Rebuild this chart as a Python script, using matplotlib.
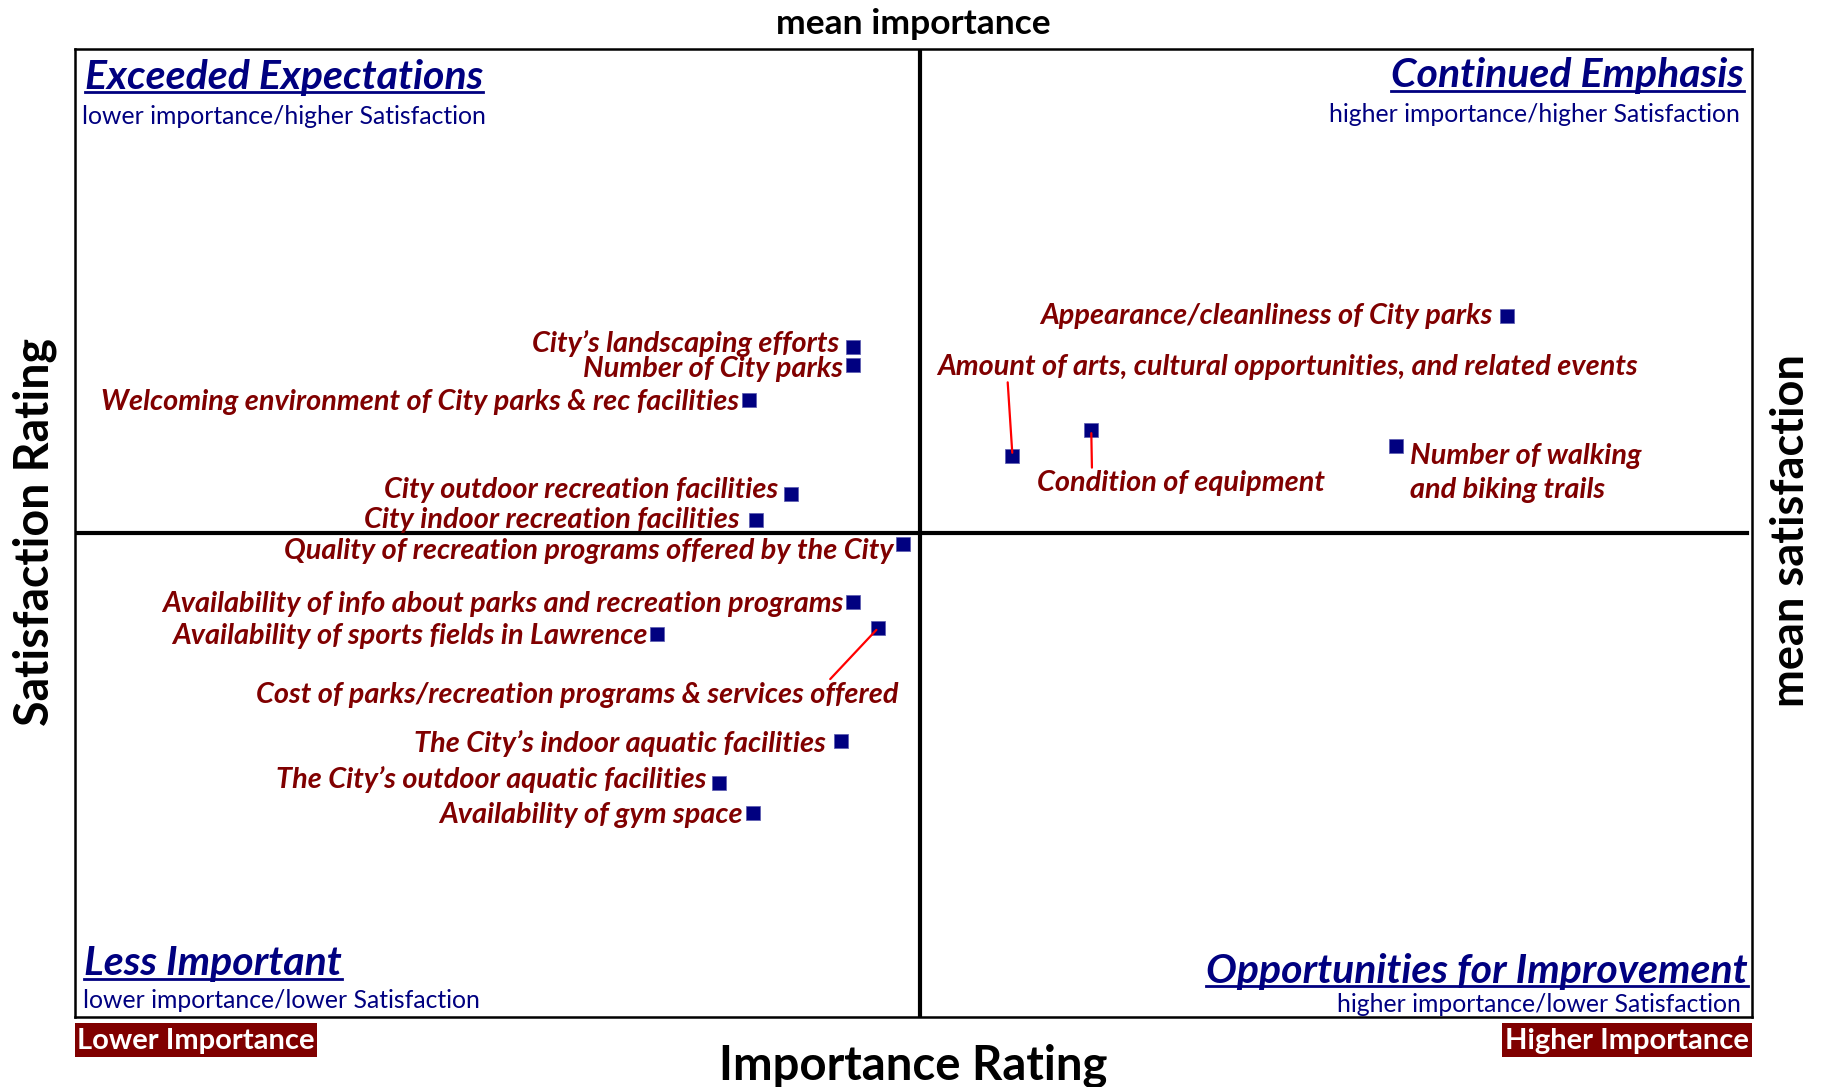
import matplotlib.pyplot as plt
from matplotlib.lines import Line2D
from matplotlib.patches import Rectangle

W, H = 1830, 1087
FONT = 'Lato'
NAVY = '#000080'
MAROON = '#800000'

# mean lines (index units, 0-100 across the plot box)
mean_importance = 50.4
mean_satisfaction = 50.0

items = [
    "City\u2019s landscaping efforts",
    "Number of City parks",
    "Welcoming environment of City parks & rec facilities",
    "City outdoor recreation facilities",
    "City indoor recreation facilities",
    "Quality of recreation programs offered by the City",
    "Availability of info about parks and recreation programs",
    "Availability of sports fields in Lawrence",
    "Cost of parks/recreation programs & services offered",
    "The City\u2019s indoor aquatic facilities",
    "The City\u2019s outdoor aquatic facilities",
    "Availability of gym space",
    "Appearance/cleanliness of City parks",
    "Amount of arts, cultural opportunities, and related events",
    "Condition of equipment",
    "Number of walking\nand biking trails",
]
importance = [46.4, 46.4, 40.2, 42.7, 40.6, 49.4, 46.4, 34.7, 47.9, 45.7,
              38.4, 40.4, 85.4, 55.9, 60.6, 78.8]
satisfaction = [69.2, 67.4, 63.7, 54.0, 51.3, 48.9, 42.9, 39.6, 40.2, 28.5,
                24.2, 21.1, 72.4, 58.0, 60.6, 59.0]

# label placement: offset in pixels, alignment, leader-line anchor (or None)
label_offsets = [(-14, 4), (-10, -4), (-10, -2), (-13, 4), (-16, 0), (-10, -7),
                 (-10, -2), (-9, -2), (20, -67), (-16, -2), (-12, 3), (-10, -2),
                 (-15, 0), (-75, 89), (-54, -53), (14, -27)]
label_ha = ['right'] * 13 + ['left', 'left', 'left']
leader_relpos = [None] * 8 + [(0.89, 1.0)] + [None] * 4 + [(0.10, 0.0), (0.19, 1.0), None]

quadrants = [
    ("Exceeded Expectations", "lower importance/higher Satisfaction", 'left', 85, 77, 82, 116),
    ("Continued Emphasis", "higher importance/higher Satisfaction", 'right', 1744, 76, 1740, 114),
    ("Less Important", "lower importance/lower Satisfaction", 'left', 84, 964, 83, 1001),
    ("Opportunities for Improvement", "higher importance/lower Satisfaction", 'right', 1748, 971, 1741, 1005),
]


def fx(px):
    return px / W


def fy(py):
    return 1 - py / H


fig = plt.figure(figsize=(W / 100, H / 100), dpi=100)
ax = fig.add_axes([fx(75), fy(1017), fx(1752) - fx(75), fy(49) - fy(1017)])
ax.set_xlim(0, 100)
ax.set_ylim(0, 100)
ax.set_xticks([])
ax.set_yticks([])
for s in ax.spines.values():
    s.set_linewidth(1.8)

ax.axvline(mean_importance, color='black', lw=3)
ax.axhline(mean_satisfaction, xmax=0.997, color='black', lw=3)

ax.scatter(importance, satisfaction, marker='s', s=110, color=NAVY,
           edgecolors='#5b5bb0', linewidths=0.5, zorder=3)

for i, name in enumerate(items):
    dx, dy = label_offsets[i]
    arrow = None
    if leader_relpos[i] is not None:
        arrow = dict(arrowstyle='-', color='red', lw=1.6,
                     relpos=leader_relpos[i], shrinkA=0, shrinkB=2)
    ax.annotate(name, (importance[i], satisfaction[i]), xytext=(dx, dy),
                textcoords='offset pixels', ha=label_ha[i], va='center',
                fontsize=20.8, fontstyle='italic', fontweight='bold',
                family=FONT, color=MAROON, linespacing=1.4,
                arrowprops=arrow, zorder=4)

# quadrant headers with underline
fig.canvas.draw()
renderer = fig.canvas.get_renderer()
for title, sub, ha, tx, ty, sx, sy in quadrants:
    t = fig.text(fx(tx), fy(ty), title, ha=ha, va='center', fontsize=29.5,
                 fontstyle='italic', fontweight='bold', family=FONT, color=NAVY)
    fig.text(fx(sx), fy(sy), sub, ha=ha, va='center', fontsize=17.8,
             family=FONT, color=NAVY)
    bb = t.get_window_extent(renderer)
    uy = bb.y0 + 4
    fig.add_artist(Line2D([bb.x0 / W, bb.x1 / W], [uy / H, uy / H],
                          color=NAVY, lw=2))

# importance end boxes
for x0, x1, txt in [(75, 317, "Lower Importance"), (1502, 1752, "Higher Importance")]:
    fig.add_artist(Rectangle((fx(x0), fy(1057)), fx(x1) - fx(x0), fy(1023) - fy(1057),
                             transform=fig.transFigure, facecolor=MAROON,
                             edgecolor='none'))
    fig.text(fx((x0 + x1) / 2), fy(1041), txt, ha='center', va='center',
             fontsize=21, fontweight='bold', family=FONT, color='white')

fig.text(fx(913), fy(24), "mean importance", ha='center', va='center',
         fontsize=25.5, fontweight='bold', family=FONT)
fig.text(fx(913), fy(1066), "Importance Rating", ha='center', va='center',
         fontsize=34, fontweight='bold', family=FONT)
fig.text(fx(35), fy(532), "Satisfaction Rating", ha='center', va='center',
         rotation=90, fontsize=33.5, fontweight='bold', family=FONT)
fig.text(fx(1791), fy(531), "mean satisfaction", ha='center', va='center',
         rotation=90, fontsize=32.5, fontweight='bold', family=FONT)

fig.savefig('out.png', dpi=100)
